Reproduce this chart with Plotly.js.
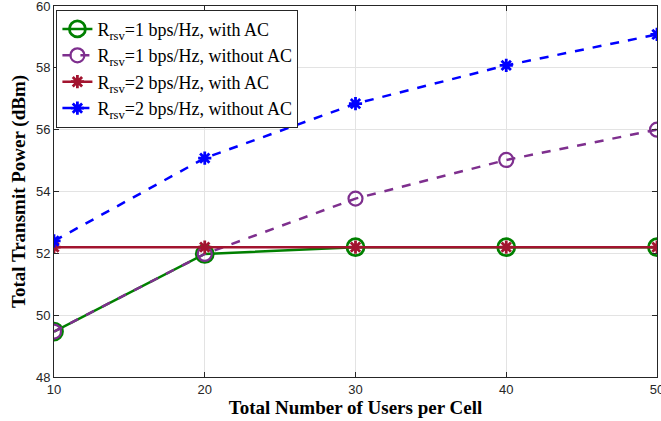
<!DOCTYPE html>
<html><head><meta charset="utf-8">
<script src="https://cdn.plot.ly/plotly-3.0.1.min.js"></script>
<style>body{margin:0;padding:0;background:#fff}#chart{width:661px;height:421px}</style>
</head><body><div id="chart"></div>
<script>
const users = [10, 20, 30, 40, 50];
const r1WithAC = [49.47, 51.98, 52.2, 52.2, 52.2];
const r1WithoutAC = [49.47, 51.98, 53.77, 55.02, 56.0];
const r2WithAC = [52.2, 52.2, 52.2, 52.2, 52.2];
const r2WithoutAC = [52.4, 55.08, 56.84, 58.08, 59.08];
const names = [
  'R<sub>rsv</sub>=1 bps/Hz, with AC',
  'R<sub>rsv</sub>=1 bps/Hz, without AC',
  'R<sub>rsv</sub>=2 bps/Hz, with AC',
  'R<sub>rsv</sub>=2 bps/Hz, without AC'
];
const xTicks = [10, 20, 30, 40, 50];
const yTicks = [48, 50, 52, 54, 56, 58, 60];

const traces = [
  {x: users, y: r1WithAC, name: names[0], mode: 'lines+markers',
   line: {color: '#008000', width: 2.5},
   marker: {symbol: 'circle-open', size: 17, color: '#008000', line: {width: 2.8, color: '#008000'}}},
  {x: users, y: r1WithoutAC, name: names[1], mode: 'lines+markers',
   line: {color: '#7E2F8E', width: 2.5, dash: 'dash'},
   marker: {symbol: 'circle-open', size: 14, color: '#7E2F8E', line: {width: 2.2, color: '#7E2F8E'}}},
  {x: users, y: r2WithAC, name: names[2], mode: 'lines+markers',
   line: {color: '#A2142F', width: 2.5},
   marker: {symbol: 'asterisk-open', size: 11, color: '#A2142F', line: {width: 2.8, color: '#A2142F'}}},
  {x: users, y: r2WithoutAC, name: names[3], mode: 'lines+markers',
   line: {color: '#0000FF', width: 2.5, dash: 'dash'},
   marker: {symbol: 'asterisk-open', size: 11, color: '#0000FF', line: {width: 2.8, color: '#0000FF'}}}
];

const axisCommon = {
  showline: true, mirror: 'ticks', linecolor: '#262626', linewidth: 1,
  ticks: 'inside', ticklen: 5, tickcolor: '#262626',
  showgrid: true, gridcolor: '#e3e3e3', gridwidth: 1, zeroline: false,
  ticklabeloverflow: 'allow',
  tickfont: {family: 'Liberation Sans, Arial, sans-serif', size: 13, color: '#262626'}
};

const layout = {
  width: 661, height: 421,
  margin: {l: 54, r: 4, t: 6, b: 44},
  paper_bgcolor: '#fff', plot_bgcolor: '#fff',
  showlegend: true,
  xaxis: Object.assign({}, axisCommon, {
    range: [10, 50], tickvals: xTicks, ticktext: xTicks.map(String),
    title: {text: 'Total Number of Users per Cell', standoff: 2,
      font: {family: 'Liberation Serif, Times New Roman, serif', size: 19, color: '#000', weight: 'bold'}}
  }),
  yaxis: Object.assign({}, axisCommon, {
    range: [48, 60], tickvals: yTicks, ticktext: yTicks.map(String),
    title: {text: 'Total Transmit Power (dBm)', standoff: 5,
      font: {family: 'Liberation Serif, Times New Roman, serif', size: 19, color: '#000', weight: 'bold'}}
  }),
  legend: {
    x: 0.004, y: 0.99, xanchor: 'left', yanchor: 'top',
    bgcolor: '#fff', bordercolor: '#262626', borderwidth: 1,
    font: {family: 'Liberation Serif, Times New Roman, serif', size: 18, color: '#000'},
    tracegroupgap: 0, itemwidth: 30
  }
};

Plotly.newPlot('chart', traces, layout, {displayModeBar: false, staticPlot: true});
</script>
</body></html>
